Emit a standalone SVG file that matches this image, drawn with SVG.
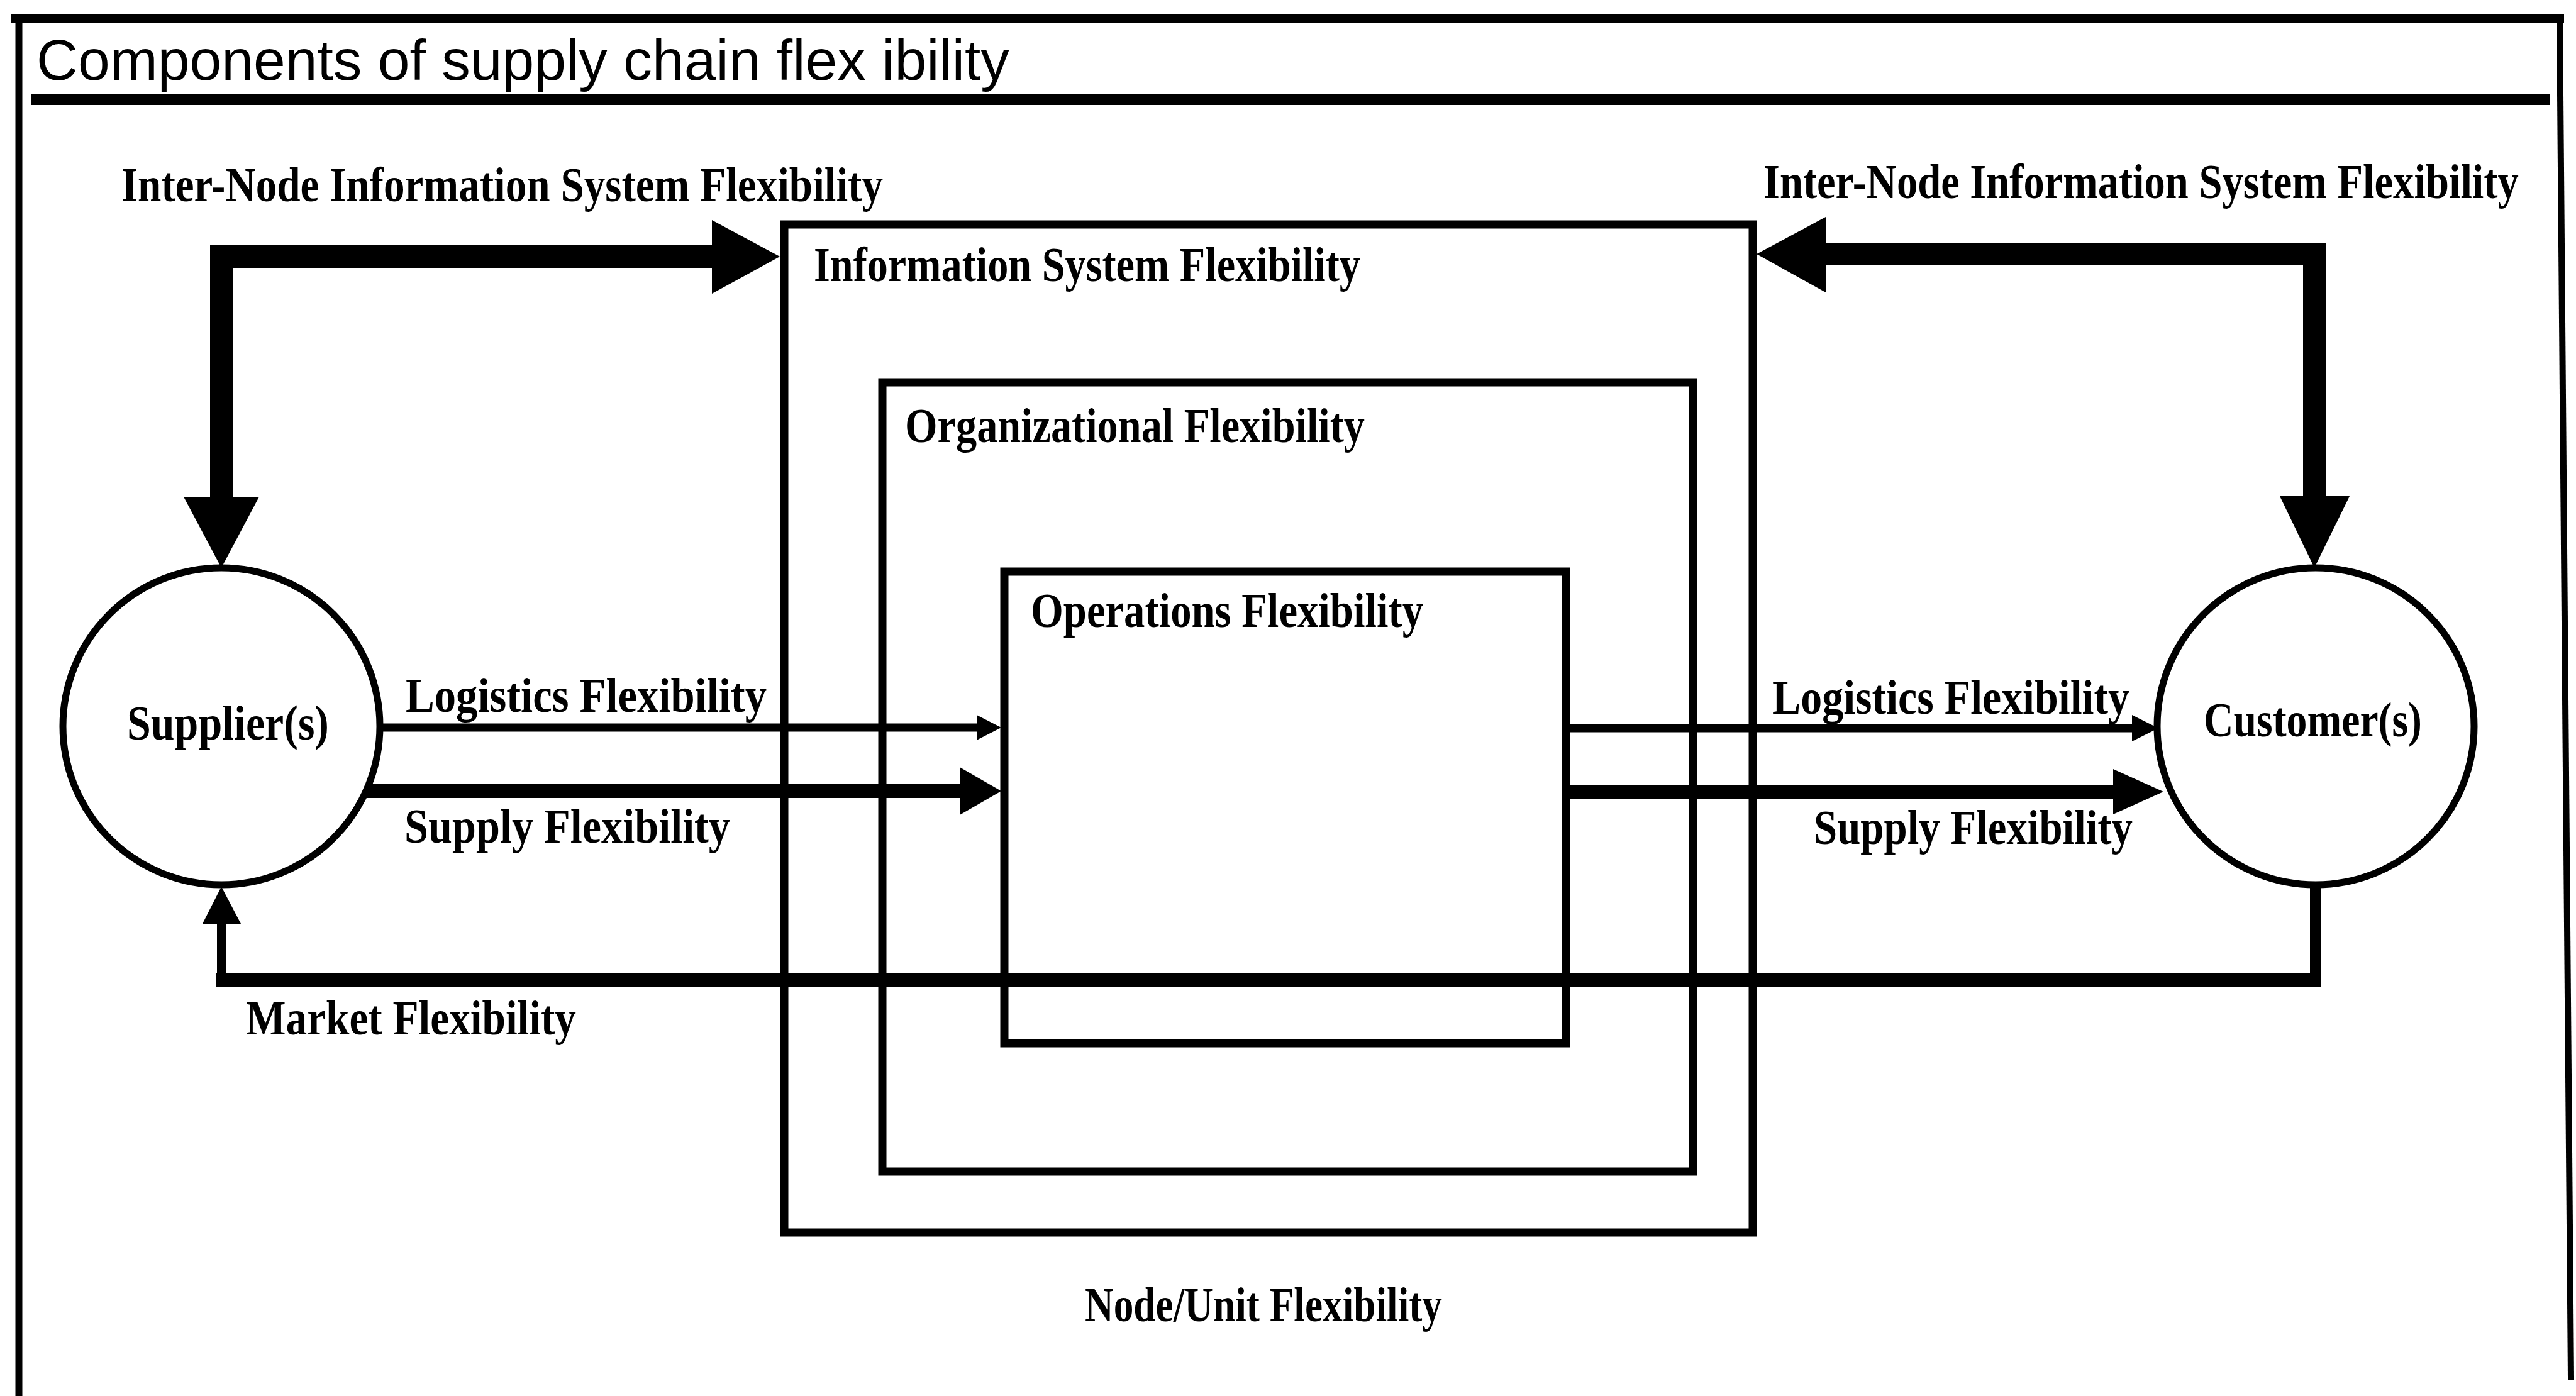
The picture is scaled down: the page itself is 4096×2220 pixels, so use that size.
<svg xmlns="http://www.w3.org/2000/svg" width="4096" height="2220" viewBox="0 0 4096 2220">
  <style>
    .frame { fill: none; stroke: #000; stroke-linecap: square; }
    .box { fill: none; stroke: #000; stroke-width: 13; }
    .node { fill: #fff; stroke: #000; stroke-width: 11; }
    .line { fill: none; stroke: #000; stroke-linejoin: miter; stroke-linecap: butt; }
    .head { fill: #000; stroke: none; }
    .title { font-family: "Liberation Sans", Arial, sans-serif; font-size: 90px; fill: #000; }
    .lbl { font-family: "Liberation Serif", "Times New Roman", serif; font-weight: bold; font-size: 78px; fill: #000; }
  </style>

  <rect x="0" y="0" width="4096" height="2220" fill="#fff"/>

  <!-- outer frame and heading -->
  <g id="frame">
    <line class="frame" x1="30" y1="29" x2="30" y2="2220" stroke-width="11"/>
    <line class="frame" x1="24" y1="29" x2="4070" y2="29" stroke-width="14"/>
    <line class="frame" x1="4070" y1="29" x2="4088" y2="2190" stroke-width="10"/>
    <text class="title" x="58" y="127" textLength="1547" lengthAdjust="spacingAndGlyphs">Components of supply chain flex ibility</text>
    <line class="frame" x1="58" y1="158" x2="4045" y2="158" stroke-width="18" stroke-linecap="butt"/>
  </g>

  <!-- nested flexibility layers of the node -->
  <g id="info-system">
    <rect class="box" x="1247" y="357" width="1540" height="1603"/>
    <text class="lbl" x="1294" y="447" textLength="869" lengthAdjust="spacingAndGlyphs">Information System Flexibility</text>
  </g>
  <g id="organizational">
    <rect class="box" x="1403" y="608" width="1289" height="1255"/>
    <text class="lbl" x="1439" y="703" textLength="731" lengthAdjust="spacingAndGlyphs">Organizational Flexibility</text>
  </g>
  <g id="operations">
    <rect class="box" x="1597" y="909" width="893" height="750"/>
    <text class="lbl" x="1639" y="997" textLength="624" lengthAdjust="spacingAndGlyphs">Operations Flexibility</text>
  </g>

  <g id="node-label">
    <text class="lbl" x="1725" y="2101" textLength="568" lengthAdjust="spacingAndGlyphs">Node/Unit Flexibility</text>
  </g>

  <!-- connectors between supplier, node and customer -->
  <g id="connectors">
    <!-- inter-node information system links -->
    <path class="line" d="M352,792 V408 H1136" stroke-width="36"/>
    <polygon class="head" points="1132,350 1240,408 1132,467"/>
    <polygon class="head" points="292,790 412,790 352,903"/>
    <text class="lbl" x="193" y="320" textLength="1211" lengthAdjust="spacingAndGlyphs">Inter-Node Information System Flexibility</text>

    <path class="line" d="M3680,792 V404 H2899" stroke-width="36"/>
    <polygon class="head" points="2903,345 2793,404 2903,465"/>
    <polygon class="head" points="3625,789 3736,789 3680,903"/>
    <text class="lbl" transform="translate(2804,315) scale(0.8,1)" x="0" y="0" textLength="1501" lengthAdjust="spacingAndGlyphs">Inter-Node Information System Flexibility</text>

    <!-- supplier to operations -->
    <line class="line" x1="600" y1="1157" x2="1556" y2="1157" stroke-width="13"/>
    <polygon class="head" points="1553,1137 1592,1157 1553,1177"/>
    <text class="lbl" x="645" y="1132" textLength="574" lengthAdjust="spacingAndGlyphs">Logistics Flexibility</text>

    <line class="line" x1="578" y1="1258" x2="1530" y2="1258" stroke-width="22"/>
    <polygon class="head" points="1526,1220 1592,1258 1526,1296"/>
    <text class="lbl" x="643" y="1340" textLength="518" lengthAdjust="spacingAndGlyphs">Supply Flexibility</text>

    <!-- operations to customer -->
    <line class="line" x1="2490" y1="1158" x2="3394" y2="1158" stroke-width="13"/>
    <polygon class="head" points="3390,1137 3432,1158 3390,1179"/>
    <text class="lbl" x="2818" y="1135" textLength="568" lengthAdjust="spacingAndGlyphs">Logistics Flexibility</text>

    <line class="line" x1="2490" y1="1259" x2="3364" y2="1259" stroke-width="22"/>
    <polygon class="head" points="3360,1223 3440,1259 3360,1295"/>
    <text class="lbl" x="2884" y="1342" textLength="507" lengthAdjust="spacingAndGlyphs">Supply Flexibility</text>

    <!-- market feedback from customer to supplier -->
    <line class="line" x1="3682" y1="1405" x2="3682" y2="1570" stroke-width="18"/>
    <line class="line" x1="343" y1="1559" x2="3691" y2="1559" stroke-width="22"/>
    <line class="line" x1="352" y1="1570" x2="352" y2="1465" stroke-width="14"/>
    <polygon class="head" points="322,1469 383,1469 352,1410"/>
    <text class="lbl" x="391" y="1645" textLength="525" lengthAdjust="spacingAndGlyphs">Market Flexibility</text>
  </g>

  <!-- chain partners -->
  <g id="supplier">
    <circle class="node" cx="352" cy="1155" r="252"/>
    <text class="lbl" x="202" y="1176" textLength="321" lengthAdjust="spacingAndGlyphs">Supplier(s)</text>
  </g>
  <g id="customer">
    <circle class="node" cx="3682" cy="1155" r="252"/>
    <text class="lbl" x="3504" y="1171" textLength="347" lengthAdjust="spacingAndGlyphs">Customer(s)</text>
  </g>
</svg>
